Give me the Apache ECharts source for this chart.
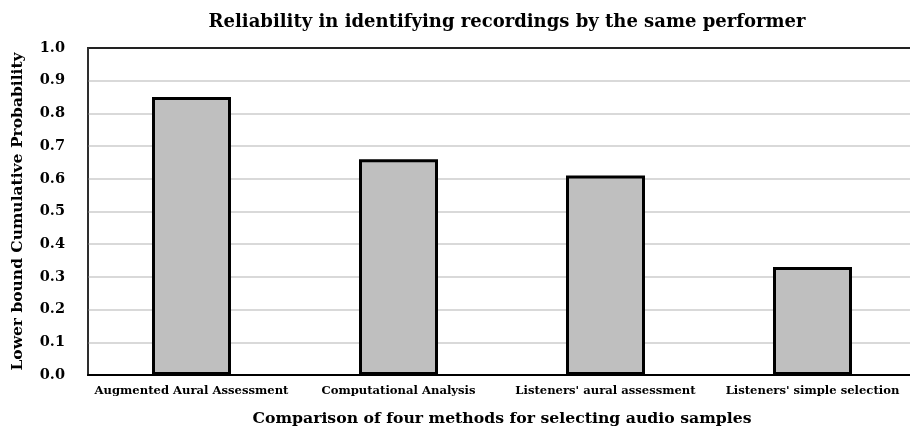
<!DOCTYPE html>
<html>
<head>
<meta charset="utf-8">
<script src="https://cdn.jsdelivr.net/npm/echarts@6/dist/echarts.min.js"></script>
<style>
  html, body { margin: 0; padding: 0; background: #fff; }
  #chart { width: 910px; height: 433px; }
</style>
</head>
<body>
<div id="chart"></div>
<script>
// Four methods of choosing audio samples
const methods = [
  'Augmented Aural Assessment',
  'Computational Analysis',
  "Listeners' aural assessment",
  "Listeners' simple selection"
];
// Lower-bound cumulative probability per method
const probability = [0.85, 0.66, 0.61, 0.33];
// Value axis ticks
const yTicks = [0.0, 0.1, 0.2, 0.3, 0.4, 0.5, 0.6, 0.7, 0.8, 0.9, 1.0];

const FONT = '"DejaVu Serif", "Liberation Serif", serif';

const chart = echarts.init(document.getElementById('chart'), null, { renderer: 'canvas' });

chart.setOption({
  animation: false,
  backgroundColor: '#ffffff',
  title: {
    text: 'Reliability in identifying recordings by the same performer',
    left: 502,
    top: 8,
    textAlign: 'center',
    textStyle: { fontFamily: FONT, fontWeight: 'bold', fontSize: 18, color: '#000' }
  },
  grid: {
    left: 88,
    top: 48,
    width: 828,
    height: 327,
    outerBoundsMode: 'none',
    show: true,
    borderColor: '#222222',
    borderWidth: 2,
    backgroundColor: 'transparent'
  },
  xAxis: {
    type: 'category',
    data: methods,
    name: 'Comparison of four methods for selecting audio samples',
    nameLocation: 'middle',
    nameGap: 36,
    nameTextStyle: { fontFamily: FONT, fontWeight: 'bold', fontSize: 15.7, color: '#000' },
    axisLine: { show: true, lineStyle: { color: '#000', width: 2 } },
    axisTick: { show: false },
    axisLabel: {
      interval: 0,
      margin: 10,
      fontFamily: FONT, fontWeight: 'bold', fontSize: 11.6, color: '#000'
    }
  },
  yAxis: {
    type: 'value',
    min: yTicks[0],
    max: yTicks[yTicks.length - 1],
    interval: 0.1,
    name: 'Lower bound Cumulative Probability',
    nameLocation: 'middle',
    nameGap: 62,
    nameTextStyle: { fontFamily: FONT, fontWeight: 'bold', fontSize: 15.5, color: '#000' },
    axisLine: { show: true, lineStyle: { color: '#333', width: 1.5 } },
    axisTick: { show: false },
    axisLabel: {
      margin: 23,
      fontFamily: FONT, fontWeight: 'bold', fontSize: 14.5, color: '#000',
      formatter: v => v.toFixed(1)
    },
    splitLine: {
      show: true,
      showMinLine: false,
      showMaxLine: false,
      lineStyle: { color: '#cccccc', width: 1.5 }
    }
  },
  series: [{
    type: 'bar',
    data: probability,
    barWidth: 79,
    itemStyle: { color: '#bfbfbf', borderColor: '#000000', borderWidth: 3 }
  }]
});
</script>
</body>
</html>
